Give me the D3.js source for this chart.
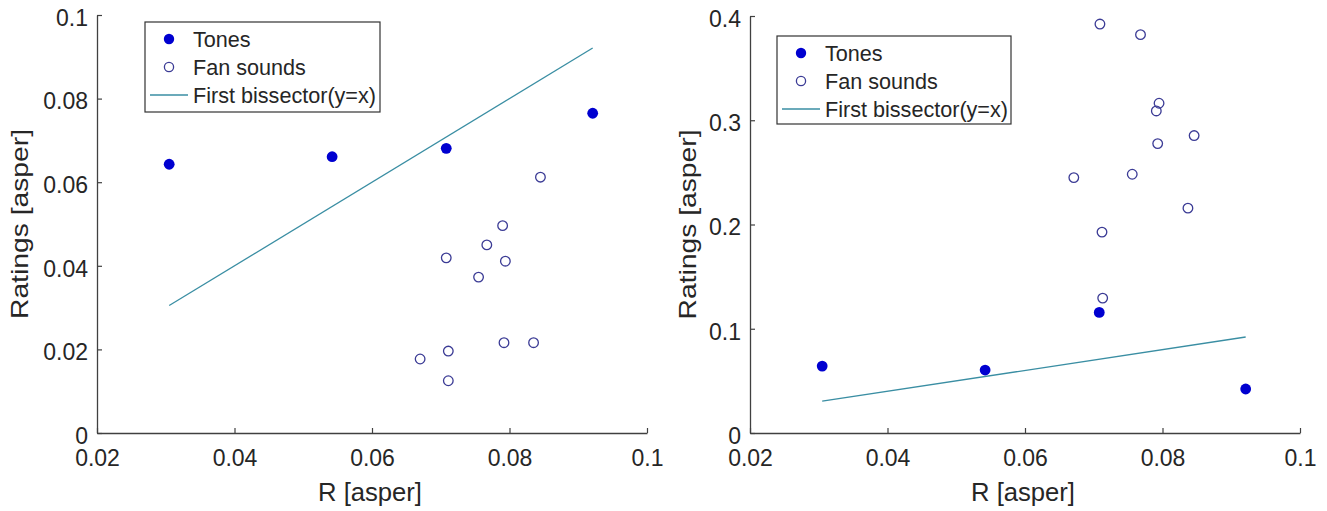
<!DOCTYPE html>
<html>
<head>
<meta charset="utf-8">
<script src="https://cdn.jsdelivr.net/npm/d3@7"></script>
<style>
  body { margin: 0; background: #fff; }
  svg text { font-family: "Liberation Sans", Arial, sans-serif; fill: #262626; }
</style>
</head>
<body>
<div id="chart"></div>
<script>
//------------------------- data -------------------------
var seriesNames = ["Tones", "Fan sounds", "First bissector(y=x)"];

// tones: same R values in both panels
var toneR = [0.0305, 0.0542, 0.0708, 0.0921];
var toneRatingLeft = [0.0643, 0.0661, 0.0681, 0.0765];
var toneRatingRight = [0.0642, 0.0604, 0.1157, 0.0422];

// fan sounds
var fanRLeft = [0.0845, 0.0790, 0.0767, 0.0708, 0.0794, 0.0755, 0.0792, 0.0835, 0.0711, 0.0670, 0.0711];
var fanRatingLeft = [0.0612, 0.0496, 0.0450, 0.0419, 0.0411, 0.0373, 0.0216, 0.0216, 0.0196, 0.0177, 0.0125];
var fanRRight = [0.0709, 0.0768, 0.0795, 0.0791, 0.0846, 0.0793, 0.0671, 0.0756, 0.0837, 0.0712, 0.0713];
var fanRatingRight = [0.3923, 0.3821, 0.3163, 0.3089, 0.2853, 0.2776, 0.2450, 0.2482, 0.2157, 0.1927, 0.1294];

// bisector drawn between the smallest and largest tone R
var bisectorR = [0.0305, 0.0921];

// ticks
var xTicks = [0.02, 0.04, 0.06, 0.08, 0.1];
var yTicksLeft = [0, 0.02, 0.04, 0.06, 0.08, 0.1];
var yTicksRight = [0, 0.1, 0.2, 0.3, 0.4];

//------------------------------------------------------------------------------
var W = 1327, H = 511;
var axisColor = "#404040";
var toneColor = "#0000d0";
var fanColor = "#3b3b95";
var lineColor = "#3a8ea3";

var svg = d3.select("#chart").append("svg")
  .attr("width", W).attr("height", H);

function zip(a, b) {
  return a.map(function(v, i) { return [v, b[i]]; });
}

function fmt(d) {
  return String(+d.toFixed(4));
}

function drawPanel(p) {
  var x = d3.scaleLinear().domain([0.02, 0.1]).range([p.left, p.right]);
  var y = d3.scaleLinear().domain(p.yDomain).range([p.bottom, p.top]);

  // axes, matlab style: ticks inside, no box
  var gx = svg.append("g")
    .attr("transform", "translate(0," + p.bottom + ")")
    .call(d3.axisBottom(x).tickValues(xTicks).tickFormat(fmt)
      .tickSizeInner(-5).tickSizeOuter(0).tickPadding(17));
  var gy = svg.append("g")
    .attr("transform", "translate(" + p.left + ",0)")
    .call(d3.axisLeft(y).tickValues(p.yTicks).tickFormat(fmt)
      .tickSizeInner(-5).tickSizeOuter(0).tickPadding(9));
  [gx, gy].forEach(function(g) {
    g.select(".domain").attr("stroke", axisColor).attr("stroke-width", 1.3);
    g.selectAll(".tick line").attr("stroke", axisColor).attr("stroke-width", 1.2);
    g.selectAll(".tick text").attr("font-size", 23).attr("fill", "#303030")
      .attr("font-family", "Liberation Sans, Arial, sans-serif");
  });
  gx.selectAll(".tick text").attr("dy", "0.71em");
  gy.selectAll(".tick text").attr("dy", "0.45em");

  // axis labels
  svg.append("text")
    .attr("x", (p.left + p.right) / 2 - 2).attr("y", p.bottom + 68)
    .attr("text-anchor", "middle").attr("font-size", 25)
    .attr("textLength", 104).attr("lengthAdjust", "spacingAndGlyphs")
    .text("R [asper]");
  svg.append("text")
    .attr("transform", "translate(" + (p.left - p.yLabelOffset) + "," + ((p.top + p.bottom) / 2) + ") rotate(-90)")
    .attr("text-anchor", "middle").attr("font-size", 24)
    .attr("textLength", 190).attr("lengthAdjust", "spacingAndGlyphs")
    .text("Ratings [asper]");

  // first bissector
  svg.append("path")
    .datum(zip(bisectorR, bisectorR))
    .attr("fill", "none").attr("stroke", lineColor).attr("stroke-width", 1.3)
    .attr("d", d3.line().x(function(d) { return x(d[0]); }).y(function(d) { return y(d[1]); }));

  // fan sounds (open)
  svg.append("g").selectAll("circle")
    .data(zip(p.fanR, p.fanRating)).enter()
    .append("circle")
    .attr("cx", function(d) { return x(d[0]); })
    .attr("cy", function(d) { return y(d[1]); })
    .attr("r", 4.8)
    .attr("fill", "none").attr("stroke", fanColor).attr("stroke-width", 1.3);

  // tones (filled)
  svg.append("g").selectAll("circle")
    .data(zip(toneR, p.toneRating)).enter()
    .append("circle")
    .attr("cx", function(d) { return x(d[0]); })
    .attr("cy", function(d) { return y(d[1]); })
    .attr("r", 5.4)
    .attr("fill", toneColor);

  // legend
  var lg = p.legend;
  svg.append("rect")
    .attr("x", lg.x).attr("y", lg.y).attr("width", lg.w).attr("height", lg.h)
    .attr("fill", "#fff").attr("stroke", "#333").attr("stroke-width", 1.2);
  var rowY = [lg.y + 17, lg.y + 45, lg.y + 73];
  svg.append("circle").attr("cx", lg.x + 24).attr("cy", rowY[0]).attr("r", 5.2).attr("fill", toneColor);
  svg.append("circle").attr("cx", lg.x + 24).attr("cy", rowY[1]).attr("r", 4.6)
    .attr("fill", "none").attr("stroke", fanColor).attr("stroke-width", 1.3);
  svg.append("line").attr("x1", lg.x + 5).attr("x2", lg.x + 43)
    .attr("y1", rowY[2]).attr("y2", rowY[2])
    .attr("stroke", lineColor).attr("stroke-width", 1.3);
  svg.append("g").selectAll("text")
    .data(seriesNames).enter()
    .append("text")
    .attr("x", lg.x + 48)
    .attr("y", function(d, i) { return rowY[i]; })
    .attr("dy", "0.36em")
    .attr("font-size", 21.6)
    .text(function(d) { return d; });
}

drawPanel({
  left: 97, right: 647, top: 15, bottom: 433,
  yDomain: [0, 0.1], yTicks: yTicksLeft, yLabelOffset: 69,
  fanR: fanRLeft, fanRating: fanRatingLeft, toneRating: toneRatingLeft,
  legend: { x: 145, y: 22, w: 235, h: 90 }
});

drawPanel({
  left: 750, right: 1300, top: 16, bottom: 433,
  yDomain: [0, 0.4], yTicks: yTicksRight, yLabelOffset: 54,
  fanR: fanRRight, fanRating: fanRatingRight, toneRating: toneRatingRight,
  legend: { x: 777, y: 36, w: 234, h: 88 }
});
</script>
</body>
</html>
